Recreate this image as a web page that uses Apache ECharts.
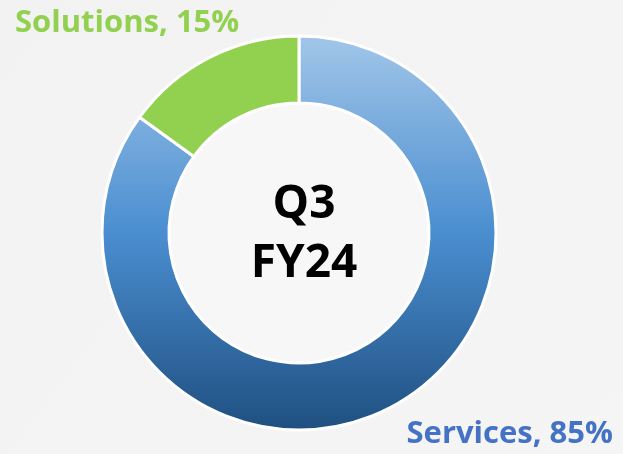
<!DOCTYPE html>
<html>
<head>
<meta charset="utf-8">
<script src="https://cdn.jsdelivr.net/npm/echarts@6/dist/echarts.min.js"></script>
<style>
  html, body { margin: 0; padding: 0; }
  #chart { width: 623px; height: 454px; }
</style>
</head>
<body>
<div id="chart"></div>
<script>
// 数据
const categories = ['Services', 'Solutions']
const shares = [85, 15]
const centerLines = ['Q3', 'FY24']

const labelColors = ['#4472c4', '#92d050']
// 标签位置
const labelPos = [
  { x: 613, y: 434, align: 'right' },
  { x: 15, y: 23, align: 'left' }
]

const chart = echarts.init(document.getElementById('chart'))

const servicesFill = new echarts.graphic.LinearGradient(0, 0, 0, 1, [
  { offset: 0, color: '#a2c6e9' },
  { offset: 0.5, color: '#4a8ed0' },
  { offset: 1, color: '#1f4f80' }
])

const option = {
  backgroundColor: new echarts.graphic.LinearGradient(0, 0, 1, 1, [
    { offset: 0, color: '#f2f2f2' },
    { offset: 1, color: '#f5f5f5' }
  ]),
  graphic: [
    {
      type: 'circle',
      shape: { cx: 299, cy: 233, r: 130 },
      style: { fill: '#f7f7f7' },
      silent: true
    },
    {
      type: 'text',
      x: 304,
      y: 175,
      z: 10,
      style: {
        text: centerLines.join('\n'),
        fill: '#000',
        font: 'bold 46px "Open Sans"',
        textAlign: 'center',
        lineHeight: 59
      }
    }
  ],
  series: [
    {
      type: 'pie',
      center: [299, 233],
      radius: [130, 197],
      startAngle: 90,
      clockwise: true,
      silent: true,
      itemStyle: {
        borderColor: '#fff',
        borderWidth: 3
      },
      label: {
        show: true,
        position: 'outside',
        formatter: '{b}, {d}%',
        fontFamily: 'Open Sans',
        fontWeight: 'bold',
        fontSize: 31,
        overflow: 'none',
        width: 400
      },
      labelLine: { show: false },
      labelLayout: function (p) {
        const pos = labelPos[p.dataIndex]
        return { x: pos.x, y: pos.y, align: pos.align, verticalAlign: 'middle' }
      },
      data: categories.map((name, i) => ({
        name: name,
        value: shares[i],
        itemStyle: { color: i === 0 ? servicesFill : '#92d050' },
        label: { color: labelColors[i] }
      }))
    }
  ]
}
chart.setOption(option)
</script>
</body>
</html>
